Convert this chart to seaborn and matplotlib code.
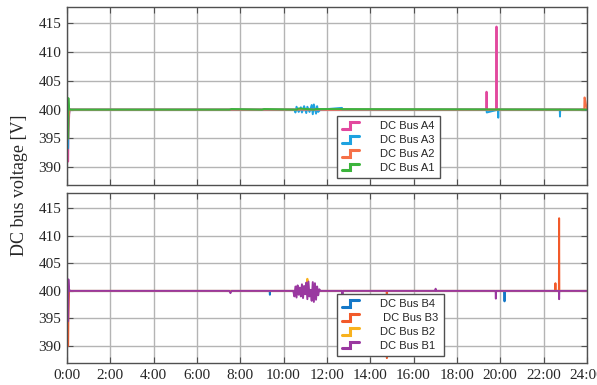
import numpy as np
import pandas as pd
import matplotlib
matplotlib.use("Agg")
import matplotlib.pyplot as plt
import seaborn as sns
from matplotlib.lines import Line2D
from matplotlib.legend_handler import HandlerBase

# ---- data (hours, volts) ----
# upper panel: buses A
a4_t = [0.06, 0.07, 0.12, 19.36, 19.37, 19.38, 19.82, 19.83, 19.84, 24.0]
a4_v = [391.0, 396.0, 400.0, 400.0, 403.1, 400.0, 400.0, 414.4, 400.0, 400.0]

a3_t = [0.06, 0.07, 0.12, 10.50, 10.55, 10.60, 10.70, 10.80, 10.85, 10.95, 11.05,
        11.10, 11.20, 11.30, 11.35, 11.40, 11.50, 11.55, 11.60, 11.70, 12.70, 12.71,
        19.37, 19.38, 19.90, 19.91, 19.92, 22.75, 22.76, 22.77, 24.0]
a3_v = [393.3, 398.0, 400.0, 400.0, 399.5, 400.5, 399.6, 400.4, 399.5, 400.6, 399.4,
        400.5, 399.6, 400.8, 399.2, 400.9, 399.3, 400.6, 399.6, 400.0, 400.3, 400.0,
        400.0, 399.5, 400.0, 398.6, 400.0, 400.0, 398.8, 400.0, 400.0]

a2_t = [0.06, 0.08, 0.12, 23.88, 23.89, 23.90, 24.0]
a2_v = [395.0, 398.5, 400.0, 400.0, 402.1, 402.1, 400.0]

a1_t = [0.06, 0.07, 0.09, 0.14, 7.50, 7.60, 9.00, 9.10, 10.60, 10.70, 11.40, 11.50, 24.0]
a1_v = [395.0, 402.0, 400.3, 400.0, 400.0, 400.1, 400.0, 400.1, 400.0, 400.2, 400.0, 400.1, 400.0]

# lower panel: buses B
b4_t = [0.06, 0.10, 9.36, 9.37, 9.38, 20.19, 20.20, 20.21, 24.0]
b4_v = [400.0, 400.0, 400.0, 399.3, 400.0, 400.0, 398.1, 400.0, 400.0]

b3_t = [0.06, 0.07, 0.10, 14.76, 14.77, 14.78, 22.54, 22.55, 22.56, 22.71, 22.72, 22.73, 24.0]
b3_v = [390.0, 395.0, 400.0, 400.0, 387.8, 400.0, 400.0, 401.4, 400.0, 400.0, 413.2, 400.0, 400.0]

b2_t = [0.06, 0.10, 11.09, 11.10, 11.11, 24.0]
b2_v = [400.0, 400.0, 400.0, 402.2, 400.0, 400.0]

b1_t = [0.06, 0.07, 0.09, 0.14, 7.50, 7.55, 7.60, 10.45, 10.50, 10.55, 10.60, 10.65, 10.70,
        10.75, 10.80, 10.85, 10.90, 10.95, 11.00, 11.05, 11.10, 11.15, 11.20, 11.25,
        11.30, 11.35, 11.40, 11.45, 11.50, 11.55, 11.60, 11.65, 11.70, 12.70, 12.72,
        12.74, 17.00, 17.02, 17.04, 19.79, 19.80, 19.81, 22.71, 22.72, 22.73, 24.0]
b1_v = [394.5, 402.1, 400.4, 400.0, 400.0, 399.6, 400.0, 400.0, 399.0, 400.8, 398.8,
        401.0, 399.3, 400.6, 399.0, 401.2, 398.7, 400.9, 399.4, 401.5, 398.5, 401.7,
        399.0, 400.2, 398.2, 401.6, 398.0, 401.4, 398.4, 400.8, 399.2, 400.3, 400.0,
        400.0, 399.4, 400.0, 400.0, 400.4, 400.0, 400.0, 398.6, 400.0, 400.0, 398.5,
        400.0, 400.0]

top_series = [("DC Bus A4", a4_t, a4_v, "#e2489e"),
              ("DC Bus A3", a3_t, a3_v, "#1ea2e0"),
              ("DC Bus A2", a2_t, a2_v, "#f67148"),
              ("DC Bus A1", a1_t, a1_v, "#3cb43c")]
bot_series = [("DC Bus B4", b4_t, b4_v, "#1478c8"),
              (" DC Bus B3", b3_t, b3_v, "#f25a2a"),
              ("DC Bus B2", b2_t, b2_v, "#f8b21e"),
              ("DC Bus B1", b1_t, b1_v, "#9a38a0")]

x_ticks = list(range(0, 25, 2))
x_labels = [f"{h}:00" for h in x_ticks]
y_ticks = [390, 395, 400, 405, 410, 415]


class StepHandler(HandlerBase):
    # draws the little step icon used in the legend
    def create_artists(self, legend, orig_handle, xdescent, ydescent,
                       width, height, fontsize, trans):
        x0, x1 = -xdescent, -xdescent + width
        xm = x0 + 0.5 * width
        y0, y1 = -ydescent + 0.05 * height, -ydescent + 0.9 * height
        ln = Line2D([x0, xm, xm, x1], [y0, y0, y1, y1], color=orig_handle.get_color(),
                    lw=2.2, solid_joinstyle="miter", transform=trans)
        return [ln]


sns.set_style("ticks")
plt.rcParams["font.family"] = ["Liberation Serif", "DejaVu Serif"]

fig = plt.figure(figsize=(5.97, 3.85), dpi=100)
ax_top = fig.add_axes([0.112, 0.519, 0.871, 0.463])
ax_bot = fig.add_axes([0.112, 0.057, 0.871, 0.442])

for ax, series in [(ax_top, top_series), (ax_bot, bot_series)]:
    # A4/B4 first so A1/B1 ends up on top
    for name, t, v, col in series:
        df = pd.DataFrame({"t": t, "v": v})
        sns.lineplot(data=df, x="t", y="v", ax=ax, color=col, lw=1.4,
                     estimator=None, sort=False, legend=False)
    ax.set_xlim(0, 24)
    ax.set_ylim(386.9, 417.8)
    ax.set_xticks(x_ticks)
    ax.set_yticks(y_ticks)
    ax.set_xlabel("")
    ax.set_ylabel("")
    ax.grid(True, color="#b4b4b4", lw=1.0)
    ax.set_axisbelow(True)
    ax.tick_params(direction="in", length=4, color="#505050", top=True, right=True,
                   labelsize=11, pad=4)
    for s in ax.spines.values():
        s.set_color("#505050")
        s.set_linewidth(1.0)
    handles = [Line2D([], [], color=col) for name, t, v, col in series]
    leg = ax.legend(handles, [s[0] for s in series], loc="lower left",
                    bbox_to_anchor=(0.508, 0.01), frameon=True, fancybox=False,
                    framealpha=1, edgecolor="#505050", handletextpad=1.9,
                    borderpad=0.45, labelspacing=0.35, handlelength=1.6,
                    handler_map={Line2D: StepHandler()},
                    prop={"family": "Liberation Sans", "size": 8})
    leg.get_frame().set_linewidth(1.0)

ax_top.set_xticklabels([])
ax_bot.set_xticklabels(x_labels)

fig.text(0.032, 0.52, "DC bus voltage [V]", rotation=90, va="center", ha="center",
         fontsize=13)

fig.savefig("out.png", dpi=100)
